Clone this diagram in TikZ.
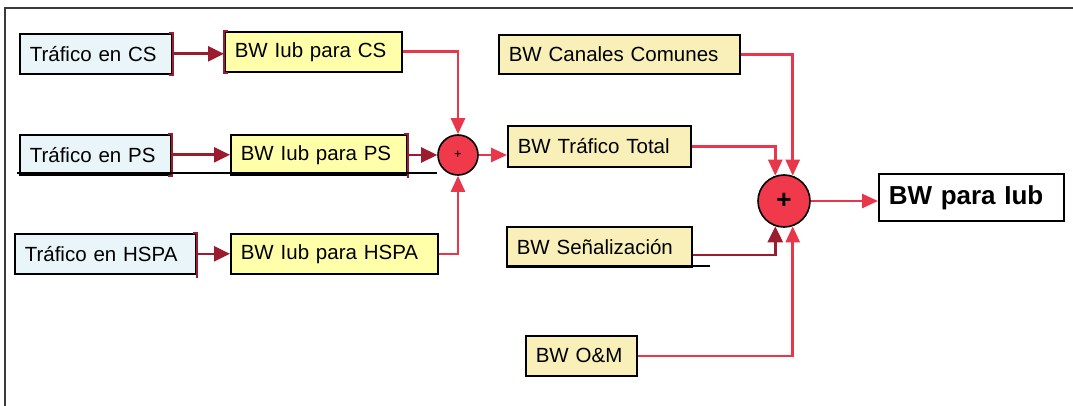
\documentclass[tikz,border=0pt]{standalone}
\usepackage{fontspec}
\setmainfont{Liberation Sans}
\usetikzlibrary{arrows.meta}
\definecolor{dred}{HTML}{9A1C2E}
\definecolor{bred}{HTML}{E8364B}
\definecolor{sumred}{HTML}{F03A4C}
\definecolor{skyfill}{HTML}{EAF5FA}
\definecolor{lemon}{HTML}{FFFFAA}
\definecolor{khaki}{HTML}{F8F0B8}
\definecolor{framegray}{HTML}{3A3A3A}

\begin{document}
\begin{tikzpicture}[x=1pt,y=-1pt,
  box/.style={draw=black, line width=1.6pt, anchor=north west, inner xsep=10pt,
    inner ysep=0pt, align=left, minimum height=40pt, font=\fontsize{20.5}{24}\selectfont},
  srcbox/.style={box, fill=skyfill},
  iubbox/.style={box, fill=lemon},
  bwbox/.style={box, fill=khaki},
  sumnode/.style={circle, draw=black, line width=1.6pt, fill=sumred, inner sep=0pt},
  darr/.style={draw=dred, line width=2.6pt, -{Triangle[length=16pt,width=15pt]}},
  rarr/.style={draw=bred, line width=2.6pt, -{Triangle[length=16pt,width=14pt]}},
  brk/.style={draw=dred, line width=2pt},
  rule/.style={draw=black, line width=1.6pt},
]
\useasboundingbox (0,0) rectangle (1073,406);

% frame
\draw[framegray, line width=2pt] (5,406) -- (5,8) -- (1073,8);

% traffic sources
\node[srcbox, text width=132pt] (tcs) at (19,33) {Tráfico en CS};
\node[srcbox, text width=131pt] (tps) at (19,134) {Tráfico en PS};
\node[srcbox, text width=161pt] (ths) at (14,233) {Tráfico en HSPA};

% Iub bandwidth per domain
\node[iubbox, text width=157pt] (ics) at (224,31) {BW Iub para CS};
\node[iubbox, text width=156pt] (ips) at (230,134) {BW Iub para PS};
\node[iubbox, text width=187pt] (ihs) at (230,233) {BW Iub para HSPA};

% bracket edges
\draw[brk] ([xshift=-4pt]tcs.north east) -- (tcs.north east) -- (tcs.south east) -- ([xshift=-4pt]tcs.south east);
\draw[brk] ([xshift=-4pt]tps.north east) -- (tps.north east) -- (tps.south east) -- ([xshift=-4pt]tps.south east);
\draw[brk] ([xshift=-4pt]ths.north east) -- (ths.north east) -- ([yshift=-3pt]ths.south east);
\draw[brk] ([xshift=4pt]ics.north west) -- (ics.north west) -- (ics.south west) -- ([xshift=4pt]ics.south west);
\draw[brk] ([xshift=-4pt]ips.north east) -- (ips.north east) -- ([yshift=-2pt]ips.south east);

% summing points
\node[sumnode, minimum size=40pt, font=\fontsize{13}{13}\selectfont] (sum1) at (458,155) {+};
\node[sumnode, minimum size=52pt, font=\fontsize{26}{26}\selectfont\bfseries] (sum2) at (784,201) {+};

% right-hand blocks
\node[bwbox, text width=221pt, minimum height=39pt] (can) at (498,34) {BW Canales Comunes};
\node[bwbox, text width=163pt, minimum height=41pt] (tot) at (507,125) {BW Tráfico Total};
\node[bwbox, text width=165pt] (sen) at (506,226) {BW Señalización};
\node[bwbox, text width=91pt] (om) at (525,335) {BW O\&M};
\node[box, fill=white, text width=165pt, minimum height=47pt,
  font=\fontsize{26}{30}\selectfont\bfseries] (out) at (878,173) {BW para Iub};

% underlines
\draw[rule] (17,173) -- (437,173);
\draw[rule] (506,266) -- (710,266);

% connectors, left stage
\draw[darr] (tcs.east) -- (tcs.east -| ics.west);
\draw[darr] (tps.east) -- (ips.west);
\draw[darr] (ths.east) -- (ihs.west);
\draw[rarr] (ics.east) -| (sum1.north);
\draw[darr] (ips.east |- sum1.west) -- (sum1.west);
\draw[rarr] (ihs.east) -| (sum1.south);
\draw[rarr] (sum1.east) -- (sum1.east -| tot.west);

% connectors, right stage
\draw[rarr] (can.east) -| (sum2.71);
\draw[rarr] (tot.east) -| (sum2.109);
\draw[darr] ([yshift=-8pt]sen.east) -| (sum2.251);
\draw[rarr] (om.east) -| (sum2.289);
\draw[rarr] (sum2.east) -- (sum2.east -| out.west);
\end{tikzpicture}
\end{document}
